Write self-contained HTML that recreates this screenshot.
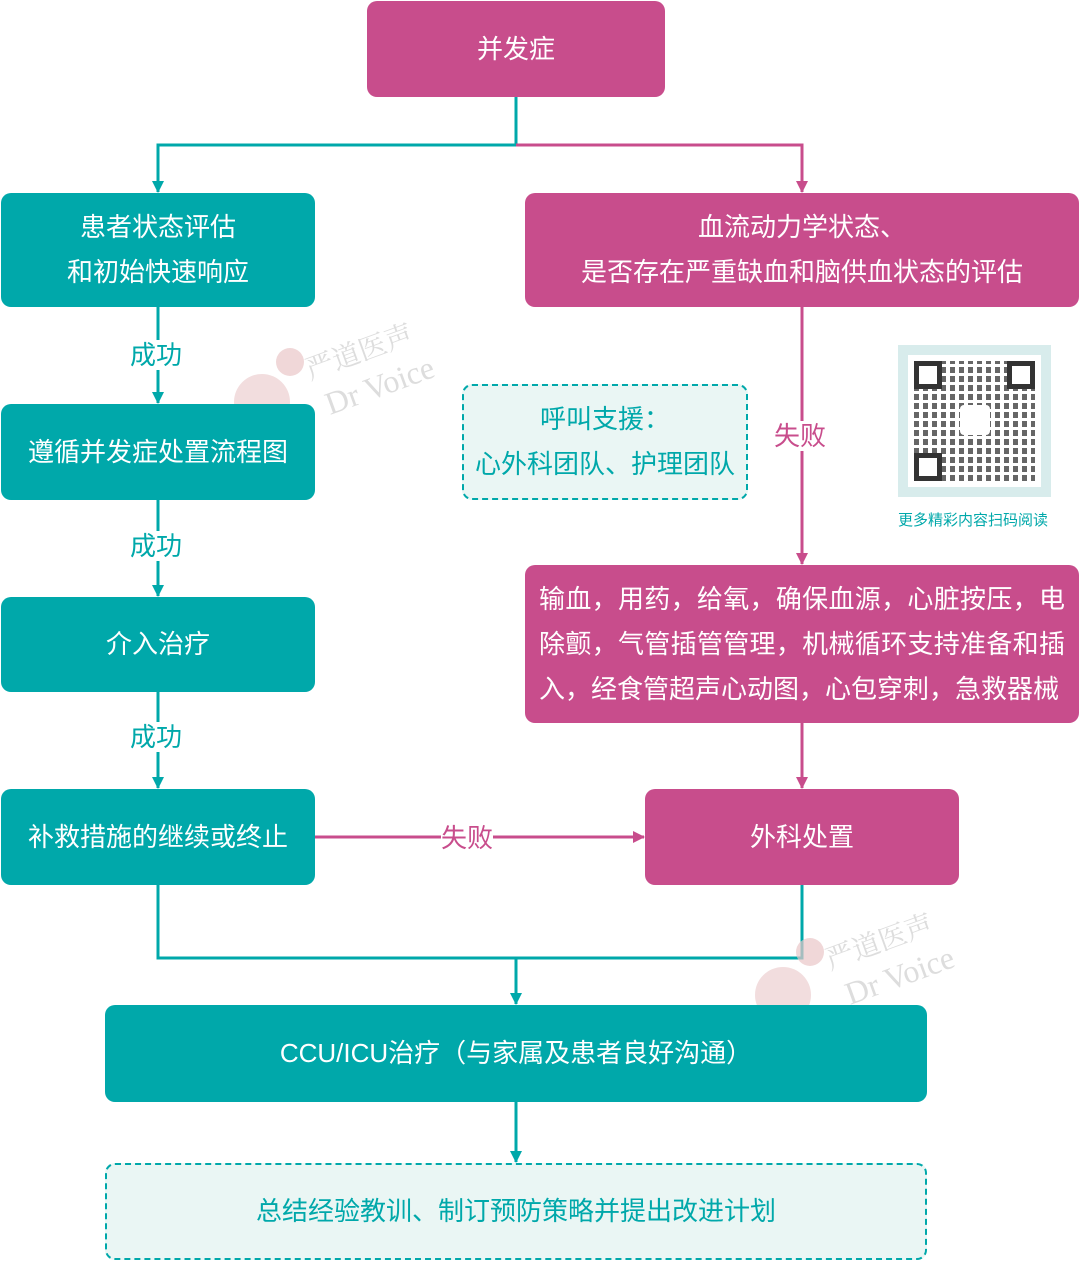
<!DOCTYPE html>
<html><head><meta charset="utf-8"><style>
body{margin:0;width:1080px;height:1262px;background:#fff;position:relative;overflow:hidden;font-family:"Liberation Sans","Noto Sans CJK SC",sans-serif;}
.b{position:absolute;display:flex;align-items:center;justify-content:center;text-align:center;color:#fff;font-size:26px;border-radius:10px;box-sizing:border-box;line-height:45px;}
.t{background:#00a8aa}.p{background:#c84d8c}
.d{background:#eaf6f4;border:2px dashed #00a8aa;color:#00a8aa}
.l{position:absolute;font-size:26px;background:#fff;line-height:30px}
</style></head><body>
<svg width="1080" height="1262" style="position:absolute;left:0;top:0">
<defs>
<marker id="at" markerWidth="12" markerHeight="12" refX="11" refY="6" orient="auto" markerUnits="userSpaceOnUse"><path d="M0,0 L12,6 L0,12 z" fill="#00a8aa"/></marker>
<marker id="ap" markerWidth="12" markerHeight="12" refX="11" refY="6" orient="auto" markerUnits="userSpaceOnUse"><path d="M0,0 L12,6 L0,12 z" fill="#c84d8c"/></marker>
</defs>
<g stroke-width="3" fill="none">
<path d="M516 97V145H158V192" stroke="#00a8aa" marker-end="url(#at)"/>
<path d="M516 145H802V192" stroke="#c84d8c" marker-end="url(#ap)"/>
<path d="M158 307V403" stroke="#00a8aa" marker-end="url(#at)"/>
<path d="M158 500V596" stroke="#00a8aa" marker-end="url(#at)"/>
<path d="M158 692V788" stroke="#00a8aa" marker-end="url(#at)"/>
<path d="M802 307V564" stroke="#c84d8c" marker-end="url(#ap)"/>
<path d="M802 723V788" stroke="#c84d8c" marker-end="url(#ap)"/>
<path d="M315 837H644" stroke="#c84d8c" marker-end="url(#ap)"/>
<path d="M158 885V958H802V885" stroke="#00a8aa"/>
<path d="M516 958V1004" stroke="#00a8aa" marker-end="url(#at)"/>
<path d="M516 1102V1162" stroke="#00a8aa" marker-end="url(#at)"/>
</g>
<circle cx="290" cy="362" r="14" fill="#e9c6c8" opacity=".7"/>
<circle cx="262" cy="402" r="28" fill="#e9c6c8" opacity=".6"/>
<circle cx="810" cy="952" r="14" fill="#e9c6c8" opacity=".7"/>
<circle cx="783" cy="995" r="28" fill="#e9c6c8" opacity=".6"/>
<g fill="#ddd" font-family="Liberation Serif,Noto Serif CJK SC,serif" font-size="28">
<text x="310" y="380" transform="rotate(-20 310 380)">严道医声</text>
<text x="330" y="415" transform="rotate(-20 330 415)" font-size="32">Dr Voice</text>
<text x="830" y="970" transform="rotate(-20 830 970)">严道医声</text>
<text x="850" y="1005" transform="rotate(-20 850 1005)" font-size="32">Dr Voice</text>
</g>
</svg>
<div class="b p" style="left:367px;top:1px;width:298px;height:96px">并发症</div>
<div class="b t" style="left:1px;top:193px;width:314px;height:114px">患者状态评估<br>和初始快速响应</div>
<div class="b p" style="left:525px;top:193px;width:554px;height:114px">血流动力学状态、<br>是否存在严重缺血和脑供血状态的评估</div>
<div class="b t" style="left:1px;top:404px;width:314px;height:96px">遵循并发症处置流程图</div>
<div class="b d" style="left:462px;top:384px;width:286px;height:116px;border-radius:10px">呼叫支援：<br>心外科团队、护理团队</div>
<div class="b p" style="left:525px;top:565px;width:554px;height:158px;text-align:justify;padding:0 14px">输血，用药，给氧，确保血源，心脏按压，电除颤，气管插管管理，机械循环支持准备和插入，经食管超声心动图，心包穿刺，急救器械</div>
<div class="b t" style="left:1px;top:597px;width:314px;height:95px">介入治疗</div>
<div class="b t" style="left:1px;top:789px;width:314px;height:96px">补救措施的继续或终止</div>
<div class="b p" style="left:645px;top:789px;width:314px;height:96px">外科处置</div>
<div class="b t" style="left:105px;top:1005px;width:822px;height:97px">CCU/ICU治疗（与家属及患者良好沟通）</div>
<div class="b d" style="left:105px;top:1163px;width:822px;height:97px">总结经验教训、制订预防策略并提出改进计划</div>
<div class="l" style="left:130px;top:340px;color:#00a8aa">成功</div>
<div class="l" style="left:130px;top:531px;color:#00a8aa">成功</div>
<div class="l" style="left:130px;top:722px;color:#00a8aa">成功</div>
<div class="l" style="left:774px;top:421px;color:#c84d8c">失败</div>
<div class="l" style="left:441px;top:823px;color:#c84d8c">失败</div>
<div style="position:absolute;left:898px;top:345px;width:153px;height:152px;background:#d8ecec">
<div style="position:absolute;left:10px;top:10px;width:133px;height:132px;background:#fff"></div>
<div style="position:absolute;left:16px;top:16px;width:121px;height:120px;background:repeating-linear-gradient(90deg,#333 0 5px,#fff 5px 9px),#333;opacity:.75"></div>
<div style="position:absolute;left:16px;top:16px;width:121px;height:120px;background:repeating-linear-gradient(0deg,transparent 0 6px,#fff 6px 9px)"></div>
<div style="position:absolute;left:16px;top:16px;width:28px;height:28px;border:5px solid #333;box-sizing:border-box;background:#fff"></div>
<div style="position:absolute;left:109px;top:16px;width:28px;height:28px;border:5px solid #333;box-sizing:border-box;background:#fff"></div>
<div style="position:absolute;left:16px;top:108px;width:28px;height:28px;border:5px solid #333;box-sizing:border-box;background:#fff"></div>
<div style="position:absolute;left:62px;top:60px;width:30px;height:30px;background:#fff;border-radius:4px"></div>
</div>
<div style="position:absolute;left:898px;top:509px;font-size:15px;color:#00a8aa">更多精彩内容扫码阅读</div>
</body></html>
